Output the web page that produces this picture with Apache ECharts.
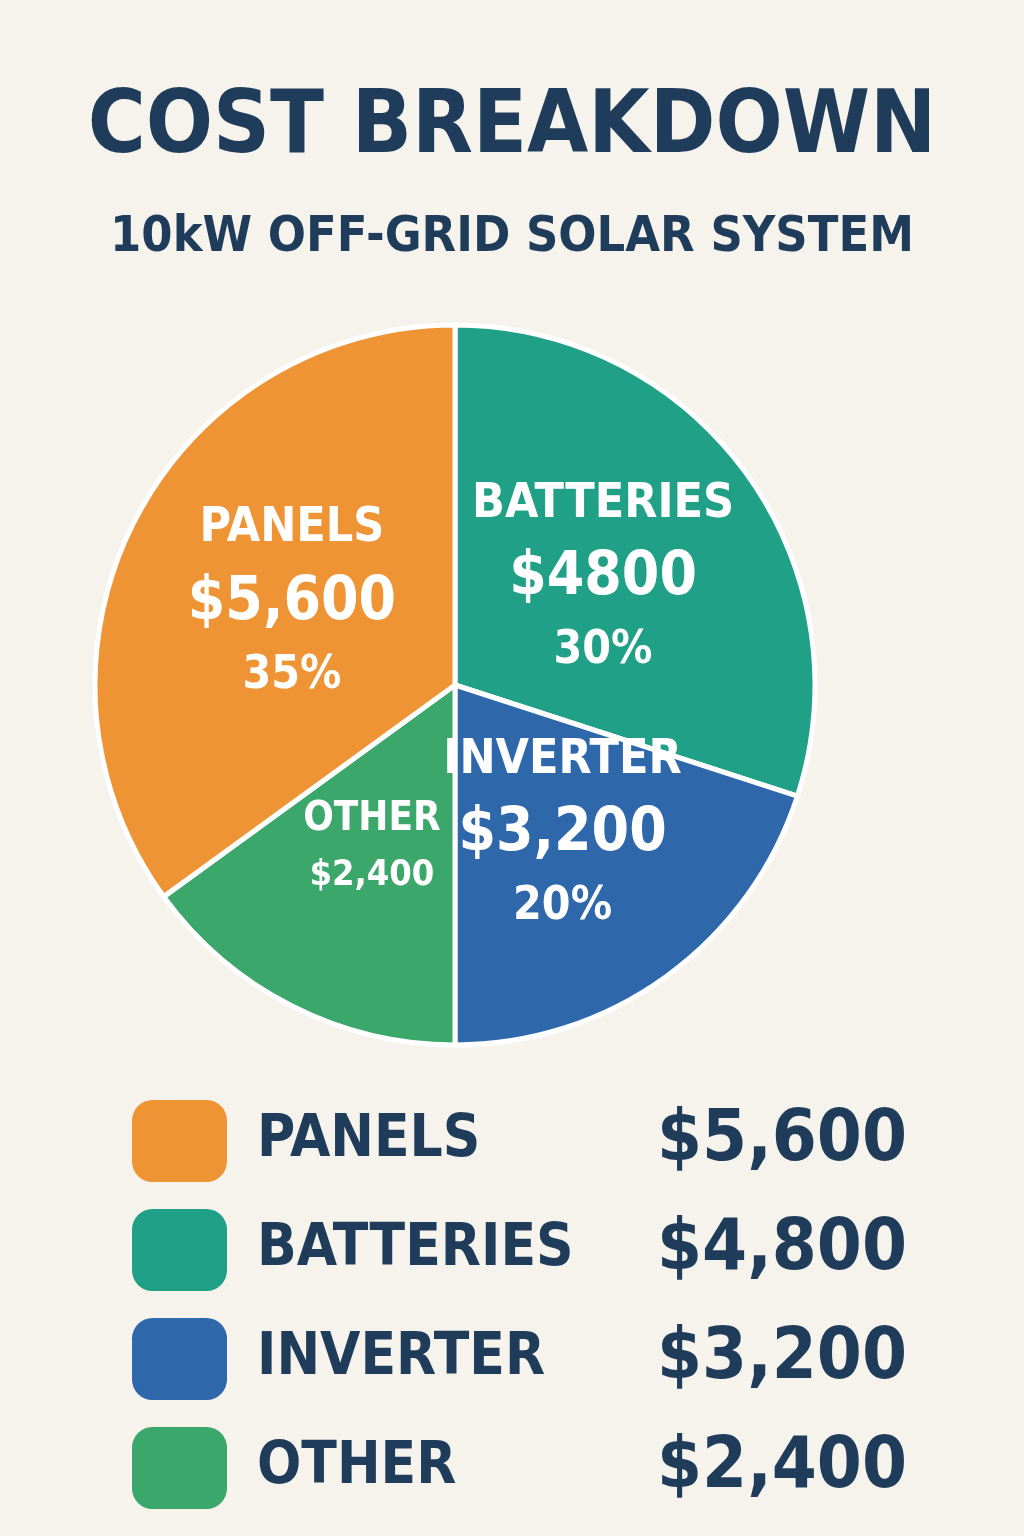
<!DOCTYPE html>
<html>
<head>
<meta charset="utf-8">
<script src="https://cdn.jsdelivr.net/npm/echarts@6/dist/echarts.min.js"></script>
<style>
  html,body{margin:0;padding:0;background:#f6f3ec;}
  #main{width:1024px;height:1536px;}
</style>
</head>
<body>
<div id="main"></div>
<script>
var categories = ['BATTERIES', 'INVERTER', 'OTHER', 'PANELS'];
var values = [4800, 3200, 2400, 5600];
var sliceLabels = ['$4800', '$3,200', '$2,400', '$5,600'];
var percents = ['30%', '20%', '', '35%'];
var legendOrder = ['PANELS', 'BATTERIES', 'INVERTER', 'OTHER'];
var legendValues = ['$5,600', '$4,800', '$3,200', '$2,400'];
var colors = ['#20a087', '#2e68ab', '#3ba76a', '#ee9434'];

var font = '"DejaVu Sans Condensed","Liberation Sans Narrow",sans-serif';
var navy = '#1f3d5a';

var chart = echarts.init(document.getElementById('main'));

var pieData = categories.map(function(c, i){
  return {
    name: c,
    value: values[i],
    itemStyle: {color: colors[i]},
    label: {
      formatter: percents[i]
        ? '{n|' + c + '}\n{v|' + sliceLabels[i] + '}\n{p|' + percents[i] + '}'
        : '{n2|' + c + '}\n{v2|' + sliceLabels[i] + '}'
    }
  };
});

chart.setOption({
  backgroundColor: '#f6f3ec',
  title: [{
    text: 'COST BREAKDOWN',
    left: 'center', top: 80,
    textStyle: {fontFamily: font, fontSize: 88, fontWeight: 'bold', color: navy}
  }, {
    text: '10kW OFF-GRID SOLAR SYSTEM',
    left: 'center', top: 208,
    textStyle: {fontFamily: font, fontSize: 50, fontWeight: 'bold', color: navy}
  }],
  legend: {
    orient: 'vertical',
    left: 127, top: 1095,
    icon: 'roundRect',
    itemWidth: 95, itemHeight: 82, itemGap: 27,
    itemStyle: {borderWidth: 0},
    data: legendOrder,
    selectedMode: false,
    formatter: function(name){
      return '{n|' + name + '}{v|' + legendValues[legendOrder.indexOf(name)] + '}';
    },
    textStyle: {
      rich: {
        n: {fontFamily: font, fontSize: 58, fontWeight: 'bold', color: navy, width: 410, padding: [0,0,0,25]},
        v: {fontFamily: font, fontSize: 72, fontWeight: 'bold', color: navy, width: 240, align: 'right'}
      }
    }
  },
  series: [{
    type: 'pie',
    center: [455, 685],
    radius: [0, 360],
    startAngle: 90,
    clockwise: true,
    avoidLabelOverlap: false,
    itemStyle: {borderColor: '#ffffff', borderWidth: 5},
    label: {
      position: 'inside',
      rich: {
        n: {fontFamily: font, fontSize: 48, fontWeight: 'bold', color: '#fff', lineHeight: 72},
        v: {fontFamily: font, fontSize: 60, fontWeight: 'bold', color: '#fff', lineHeight: 76},
        p: {fontFamily: font, fontSize: 46, fontWeight: 'bold', color: '#fff', lineHeight: 70},
        n2: {fontFamily: font, fontSize: 40, fontWeight: 'bold', color: '#fff', lineHeight: 56},
        v2: {fontFamily: font, fontSize: 36, fontWeight: 'bold', color: '#fff', lineHeight: 56}
      }
    },
    labelLayout: {hideOverlap: false},
    labelLine: {show: false},
    emphasis: {disabled: true},
    data: pieData
  }]
});
</script>
</body>
</html>
